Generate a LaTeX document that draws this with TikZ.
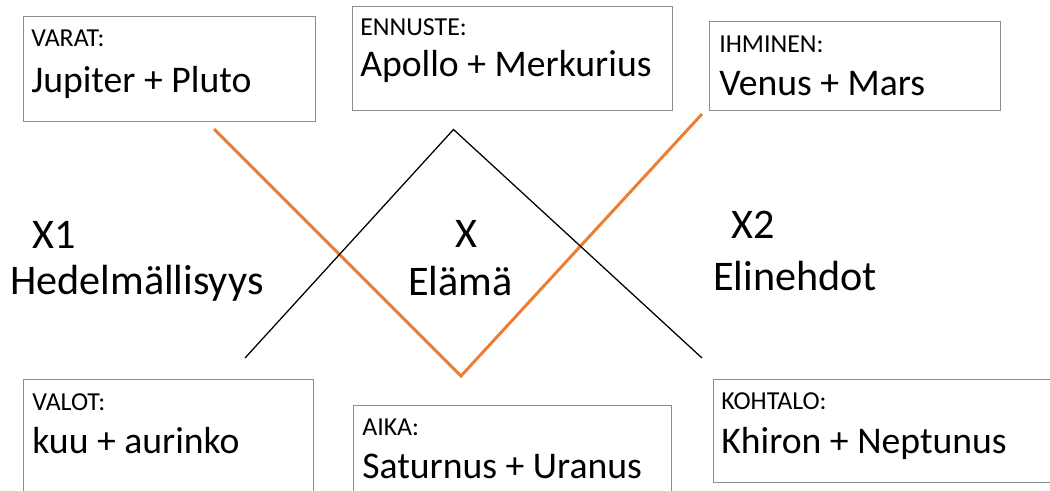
\documentclass[tikz,border=0pt]{standalone}
\usepackage{fontspec}
\setmainfont{Carlito}
\usepackage{xcolor}
\usepackage{tikz}
\usetikzlibrary{positioning,calc}
\definecolor{accentorange}{RGB}{237,125,49}
\definecolor{boxgray}{RGB}{140,140,140}
\newcommand{\bigtxt}{\fontsize{26.8pt}{32pt}\selectfont}
\newcommand{\midtxt}{\fontsize{30pt}{36pt}\selectfont}
\newcommand{\smalltxt}{\fontsize{18.4pt}{22pt}\selectfont}

\begin{document}
\begin{tikzpicture}[
  b/.style={draw=boxgray, line width=0.9pt, anchor=north west, inner sep=0pt},
  lbl/.style={anchor=base west, inner sep=0pt, font=\smalltxt},
  big/.style={anchor=base west, inner sep=0pt, font=\bigtxt},
  mid/.style={anchor=base west, inner sep=0pt, font=\midtxt},
  ln/.style={line width=0.9pt, line join=miter},
  oln/.style={draw=accentorange, line width=2.1pt, line join=miter}]
\useasboundingbox (0,0) rectangle (26.25,-12.275);
% top row
\node[b, minimum width=7.3cm, minimum height=2.625cm] (varat) at (0.575,-0.4) {};
\node[lbl] (varatc) at ($(varat.north west)+(0.2,-0.775)$) {VARAT:};
\node[big] (varatt) at ($(varat.north west)+(0.2,-1.925)$) {Jupiter + Pluto};
\node[b, minimum width=8cm, minimum height=2.6cm] (ennuste) at (8.8,-0.15) {};
\node[lbl] (ennustec) at ($(ennuste.north west)+(0.2,-0.75)$) {ENNUSTE:};
\node[big] (ennustet) at ($(ennuste.north west)+(0.2,-1.775)$) {Apollo + Merkurius};
\node[b, minimum width=7.275cm, minimum height=2.225cm] (ihminen) at (17.725,-0.525) {};
\node[lbl] (ihminenc) at ($(ihminen.north west)+(0.25,-0.8)$) {IHMINEN:};
\node[big] (ihminent) at ($(ihminen.north west)+(0.25,-1.875)$) {Venus + Mars};
% bottom row
\node[b, minimum width=7.25cm, minimum height=3.2cm] (valot) at (0.575,-9.475) {};
\node[lbl] (valotc) at ($(valot.north west)+(0.225,-0.775)$) {VALOT:};
\node[big] (valott) at ($(valot.north west)+(0.225,-1.85)$) {kuu + aurinko};
\node[b, minimum width=7.95cm, minimum height=2.6cm] (aika) at (8.825,-10.125) {};
\node[lbl] (aikac) at ($(aika.north west)+(0.225,-0.75)$) {AIKA:};
\node[big] (aikat) at ($(aika.north west)+(0.225,-1.825)$) {Saturnus + Uranus};
\node[b, minimum width=8.7cm, minimum height=2.575cm] (kohtalo) at (17.825,-9.475) {};
\node[lbl] (kohtaloc) at ($(kohtalo.north west)+(0.2,-0.75)$) {KOHTALO:};
\node[big] (kohtalot) at ($(kohtalo.north west)+(0.2,-1.85)$) {Khiron + Neptunus};
% middle texts
\node[mid] (x1) at (0.8,-6.2) {X1};
\node[mid] (hedelm) at (0.25,-7.35) {Hedelmällisyys};
\node[mid] (x) at (11.375,-6.175) {X};
\node[mid] (elama) at (10.2,-7.375) {Elämä};
\node[mid] (x2) at (18.275,-5.95) {X2};
\node[mid] (elinehdot) at (17.825,-7.25) {Elinehdot};
% the two crossing lines
\coordinate (o1) at (5.35,-3.225);
\coordinate (o2) at (11.525,-9.4);
\coordinate (o3) at (17.55,-2.85);
\coordinate (k1) at (6.125,-8.95);
\coordinate (k2) at (11.3375,-3.2375);
\coordinate (k3) at (17.55,-8.95);
\draw[oln] (o1) -- (o2) -- (o3);
\draw[ln] (k1) -- (k2) -- (k3);
\end{tikzpicture}
\end{document}
